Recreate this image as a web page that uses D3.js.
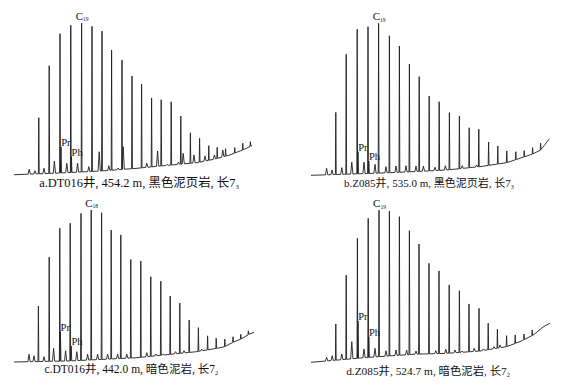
<!DOCTYPE html>
<html><head><meta charset="utf-8">
<script src="https://cdn.jsdelivr.net/npm/d3@7"></script>
<style>body{margin:0;background:#fff}svg{display:block}</style>
</head><body>
<svg id="chart" width="567" height="388"></svg>
<script>
// ---- Panel a: DT016, 454.2 m ----
const aPeakT = [6.2, 8.8, 11.5, 14.2, 16.9, 19.5, 22.0, 24.4, 27.0, 29.5, 31.9, 34.4, 36.8, 39.3, 41.7, 44.1, 46.4, 48.7, 50.8, 52.9, 55.2, 57.2, 59.1];
const aPeakV = [37.7, 71.9, 93.0, 98.5, 100, 97.8, 94.7, 82.2, 75.7, 65.1, 59.7, 50.7, 49.5, 48.2, 38.8, 27.8, 24.1, 19.3, 18.2, 17.3, 18.0, 20.9, 21.9];
const aMinorT = [3.8, 5.25, 7.5, 10.1, 13.2, 15.9, 18.7, 21.3, 23.7, 26.0, 27.3, 33.2, 35.9, 38.25, 41.1, 42.3, 45.0, 47.75, 50.1, 52.2];
const aMinorV = [3.8, 2.8, 4.4, 9.2, 7.7, 7.7, 5.5, 15.3, 6.1, 4.6, 18.6, 7.7, 15.8, 7.0, 8.4, 14.3, 13.2, 12.5, 13.2, 16.4];
const aPr = [11.75, 18.6];
const aPh = [14.35, 12.0];
const aBaseT = [0, 11.5, 21.5, 30.7, 36.5, 45.75, 50.25, 54, 57.75, 59.5];
const aBaseV = [0.2, 1.3, 2.6, 4.4, 5.9, 8.1, 10.5, 13.2, 17.1, 19.4];

// ---- Panel b: Z085, 535.0 m ----
const bPeakT = [6.2, 8.8, 11.55, 14.25, 16.9, 19.6, 22.1, 24.6, 27.05, 29.55, 32.05, 34.6, 37.1, 39.55, 41.95, 44.4, 46.7, 48.95, 51.2, 53.3, 55.4, 57.4];
const bPeakV = [41.4, 79.6, 96.1, 97.8, 100, 91.8, 85.1, 73.2, 64.9, 52.2, 48.4, 41.2, 39.0, 31.3, 30.3, 21.9, 19.3, 16.0, 15.5, 16.2, 18.2, 21.1];
const bMinorT = [3.9, 5.25, 7.7, 10.2, 13.25, 16.0, 18.75, 21.25, 23.75, 26.25, 28.1, 31.0, 33.6, 37.8, 41.4];
const bMinorV = [4.6, 3.5, 5.0, 8.6, 8.6, 7.2, 5.7, 6.1, 6.3, 6.1, 6.1, 5.3, 6.3, 6.3, 6.8];
const bPr = [11.75, 15.5];
const bPh = [14.45, 9.4];
const bBaseT = [0, 14.75, 25.6, 33.9, 42.25, 48.9, 52.25, 55.4, 57.4, 59.6];
const bBaseV = [0, 1.2, 2.4, 3.5, 5.7, 8.3, 11.2, 14.0, 16.6, 24.0];

// ---- Panel c: DT016, 442.0 m ----
const cPeakT = [6.1, 8.8, 11.45, 14.05, 16.75, 19.3, 21.9, 24.3, 26.7, 29.2, 31.7, 34.2, 36.7, 39.05, 41.45, 43.8, 46.1, 48.4, 50.55, 52.7, 54.75, 56.7, 58.6];
const cPeakV = [36.8, 69.1, 88.0, 91.3, 97.8, 100, 98.2, 86.8, 83.6, 67.4, 66.4, 56.1, 53.2, 43.4, 38.8, 27.6, 22.6, 17.2, 15.6, 15.1, 16.6, 18.2, 20.5];
const cMinorT = [3.75, 5.0, 7.5, 9.9, 12.9, 15.7, 18.4, 20.9, 23.4, 25.9, 28.2, 33.2, 35.5, 37.3, 40.4, 42.5, 46.9];
const cMinorV = [5.1, 4.1, 3.5, 9.0, 7.4, 6.8, 5.1, 5.1, 5.1, 5.1, 5.1, 6.1, 5.3, 5.3, 6.8, 7.4, 8.4];
const cPr = [11.6, 19.9];
const cPh = [14.3, 10.5];
const cBaseT = [0, 14, 30.7, 45.7, 50.7, 52.7, 54.75, 56.75, 58.7, 60];
const cBaseV = [0, 0.7, 2.8, 6.8, 9.0, 10.1, 13.0, 15.1, 18.2, 19.5];

// ---- Panel d: Z085, 524.7 m ----
const dPeakT = [6.2, 8.8, 11.6, 14.3, 17.0, 19.6, 22.1, 24.6, 27.0, 29.5, 32.0, 34.55, 37.1, 39.5, 42.0, 44.3, 46.6, 48.9, 51.05, 53.25, 55.3];
const dPeakV = [25.2, 57.4, 81.6, 94.7, 100, 99.5, 95.8, 86.6, 77.8, 65.1, 60.1, 50.9, 47.1, 38.4, 35.5, 25.7, 21.7, 17.5, 18.0, 18.6, 21.3];
const dMinorT = [3.9, 5.3, 7.7, 10.2, 13.25, 16.0, 18.75, 21.25, 23.9, 26.25, 31.2, 33.7, 36.0, 37.75, 40.8, 43.1, 45.75, 47.25];
const dMinorV = [3.3, 4.3, 5.5, 13.6, 8.8, 9.2, 7.6, 8.1, 8.1, 7.4, 7.6, 8.6, 8.1, 7.4, 9.2, 8.8, 10.3, 11.4];
const dPr = [11.75, 27.2];
const dPh = [14.45, 16.8];
const dBaseT = [0, 8.9, 13.1, 25.6, 33.9, 42.25, 48.9, 52.25, 55.6, 58.1, 59.75];
const dBaseV = [0, 2.0, 3.0, 5.3, 5.9, 7.4, 10.3, 13.6, 18.0, 23.4, 25.7];

// labels
const topCarbon = ["19", "19", "18", "19"];
const captionMain = ["a.DT016井, 454.2 m, 黑色泥页岩, 长7", "b.Z085井, 535.0 m, 黑色泥页岩, 长7", "c.DT016井, 442.0 m, 暗色泥岩, 长7", "d.Z085井, 524.7 m, 暗色泥岩, 长7"];
const captionSub = ["3", "3", "2", "2"];

// ---- layout ----
const panels = [
  {pt: aPeakT, pv: aPeakV, mt: aMinorT, mv: aMinorV, pr: aPr, ph: aPh, bt: aBaseT, bv: aBaseV, x0: 14, y0: 175, cx: 139, cy: 187, cw: 200},
  {pt: bPeakT, pv: bPeakV, mt: bMinorT, mv: bMinorV, pr: bPr, ph: bPh, bt: bBaseT, bv: bBaseV, x0: 311, y0: 175.3, cx: 429, cy: 186.7, cw: 170},
  {pt: cPeakT, pv: cPeakV, mt: cMinorT, mv: cMinorV, pr: cPr, ph: cPh, bt: cBaseT, bv: cBaseV, x0: 14, y0: 362, cx: 131.3, cy: 373.3, cw: 174},
  {pt: dPeakT, pv: dPeakV, mt: dMinorT, mv: dMinorV, pr: dPr, ph: dPh, bt: dBaseT, bv: dBaseV, x0: 311, y0: 362.3, cx: 428, cy: 375, cw: 164}
];

const svg = d3.select("#chart");
const serif = "'Liberation Serif','Times New Roman','Noto Sans CJK SC',serif";

panels.forEach((p, i) => {
  const x = d3.scaleLinear().domain([0, 60]).range([p.x0, p.x0 + 240]);
  const y = d3.scaleLinear().domain([0, 100]).range([p.y0, p.y0 - 152]);
  const base = d3.scaleLinear().domain(p.bt).range(p.bv).clamp(true);
  const tEnd = p.bt[p.bt.length - 1];

  const peaks = [];
  p.pt.forEach((t, k) => peaks.push({t, v: p.pv[k], w: 0.1}));
  p.mt.forEach((t, k) => peaks.push({t, v: Math.max(p.mv[k], base(t) + 0.4), w: 0.28}));
  peaks.push({t: p.pr[0], v: p.pr[1], w: 0.14});
  peaks.push({t: p.ph[0], v: p.ph[1], w: 0.14});
  peaks.sort((a, b) => a.t - b.t);

  const pts = [];
  let pi = 0;
  for (let t = 0; t <= tEnd + 1e-6; t += 0.5) {
    while (pi < peaks.length && peaks[pi].t - peaks[pi].w <= t) {
      const q = peaks[pi];
      pts.push([q.t - q.w, base(q.t - q.w)]);
      pts.push([q.t, q.v]);
      pts.push([q.t + q.w, base(q.t + q.w)]);
      pi++;
    }
    const last = pts.length ? pts[pts.length - 1][0] : -1;
    if (t > last + 0.05) pts.push([t, base(t)]);
  }
  while (pi < peaks.length) {
    const q = peaks[pi++];
    pts.push([q.t - q.w, base(q.t - q.w)], [q.t, q.v], [q.t + q.w, base(q.t + q.w)]);
  }
  if (pts[pts.length - 1][0] < tEnd) pts.push([tEnd, base(tEnd)]);

  const line = d3.line().x(d => x(d[0])).y(d => y(d[1]));
  svg.append("path").attr("d", line(pts))
    .attr("fill", "none").attr("stroke", "#1e1e1e").attr("stroke-width", 0.9)
    .attr("stroke-linejoin", "miter");

  // top carbon label
  const iMax = d3.maxIndex(p.pv);
  const ct = svg.append("text")
    .attr("x", x(p.pt[iMax]) + 0.5).attr("y", y(p.pv[iMax]) - 3.2)
    .attr("text-anchor", "middle").attr("font-family", serif)
    .attr("font-size", 11).attr("fill", "#111");
  ct.append("tspan").text("C");
  ct.append("tspan").attr("font-size", 5.5).attr("dy", 1.5).text(topCarbon[i]);

  // Pr / Ph labels
  [["Pr", p.pr], ["Ph", p.ph]].forEach(([lab, d]) => {
    svg.append("text").attr("x", x(d[0]) + 0.2).attr("y", y(d[1]) - 1)
      .attr("font-family", serif).attr("font-size", 10.5).attr("fill", "#111")
      .text(lab);
  });

  // caption
  const cap = svg.append("text").attr("x", p.cx).attr("y", p.cy)
    .attr("text-anchor", "middle").attr("font-family", serif)
    .attr("font-size", 11).attr("fill", "#111");
  cap.append("tspan").text(captionMain[i]);
  cap.append("tspan").attr("font-size", 6).attr("dy", 2).text(captionSub[i]);
  const w = cap.node().getComputedTextLength();
  const fs = 11 * p.cw / w;
  cap.attr("font-size", fs);
  cap.select("tspan:last-child").attr("font-size", fs * 0.55);
});
</script>
</body></html>
